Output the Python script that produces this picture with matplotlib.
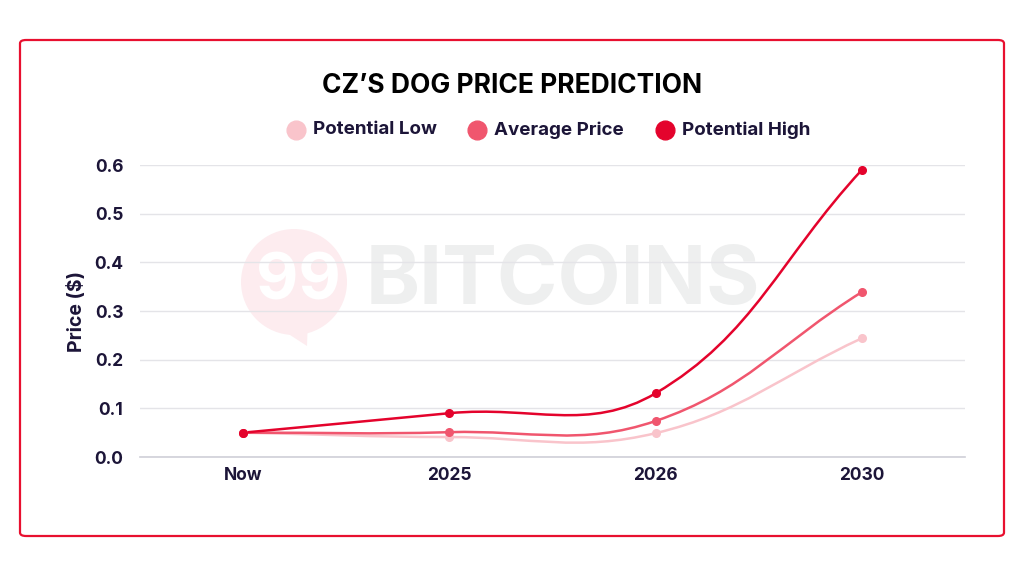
import numpy as np
import matplotlib.pyplot as plt
from matplotlib.path import Path
from matplotlib.patches import PathPatch, FancyBboxPatch, Ellipse, Polygon
from matplotlib.lines import Line2D

plt.rcParams['font.family'] = ['Inter', 'DejaVu Sans']

labels = ["Now", "2025", "2026", "2030"]
potential_low = [0.05, 0.041, 0.049, 0.244]
average_price = [0.05, 0.051, 0.074, 0.339]
potential_high = [0.05, 0.090, 0.131, 0.590]
series_names = ["Potential Low", "Average Price", "Potential High"]

c_low = "#f9c4cb"
c_avg = "#f0566e"
c_high = "#e4032c"
navy = "#1c1538"

W, H = 1024, 576
fig = plt.figure(figsize=(W / 100, H / 100), dpi=100)
ax = fig.add_axes([140 / W, 1 - 457 / H, 825 / W, 292 / H])
ax.set_xlim(-0.5, 3.5)
ax.set_ylim(0, 0.6)
ax.patch.set_visible(False)

# red frame
frame = FancyBboxPatch((20 / W, 40 / H), 984 / W, 496 / H,
                       boxstyle="round,pad=0,rounding_size=0.006",
                       transform=fig.transFigure, fill=False,
                       edgecolor="#e8102f", linewidth=1.6)
fig.patches.append(frame)

# watermark (99 bubble + BITCOINS)
wm_pink = "#fdecef"
fig.patches.append(Ellipse((294 / W, 1 - 282 / H), 106 / W, 106 / H, transform=fig.transFigure,
                           facecolor=wm_pink, edgecolor="none", zorder=-1))
fig.patches.append(Polygon([(270 / W, 1 - 322 / H), (307 / W, 1 - 346 / H), (308 / W, 1 - 318 / H)],
                           closed=True, transform=fig.transFigure,
                           facecolor=wm_pink, edgecolor="none", zorder=-1))
fig.text(298 / W, 1 - 283 / H, "99", ha="center", va="center", color="white",
         fontsize=47, fontweight="bold", zorder=-0.5)
fig.text(366 / W, 1 - 283 / H, "BITCOINS", ha="left", va="center", color="#eeefef",
         fontsize=59, fontweight="bold", zorder=-0.5)


def spline_path(ys, tension=0.4):
    xs = np.arange(len(ys))
    pts = ax.transData.transform(np.column_stack([xs, ys]))
    n = len(pts)
    prev_cp = [None] * n
    next_cp = [None] * n
    for i in range(n):
        p0 = pts[max(i - 1, 0)]
        p1 = pts[i]
        p2 = pts[min(i + 1, n - 1)]
        d01 = np.hypot(*(p1 - p0))
        d12 = np.hypot(*(p2 - p1))
        tot = d01 + d12 if d01 + d12 > 0 else 1
        fa = tension * d01 / tot
        fb = tension * d12 / tot
        prev_cp[i] = p1 - fa * (p2 - p0)
        next_cp[i] = p1 + fb * (p2 - p0)
    verts = [pts[0]]
    codes = [Path.MOVETO]
    for i in range(1, n):
        verts += [next_cp[i - 1], prev_cp[i], pts[i]]
        codes += [Path.CURVE4] * 3
    verts = ax.transData.inverted().transform(np.array(verts))
    return Path(verts, codes)


for ys, col in [(potential_low, c_low), (average_price, c_avg), (potential_high, c_high)]:
    ax.add_patch(PathPatch(spline_path(ys), facecolor="none", edgecolor=col,
                           linewidth=1.8, zorder=3))
    ax.plot(range(len(ys)), ys, linestyle="none", marker="o", markersize=5.5,
            color=col, zorder=4)

ax.set_xticks(range(len(labels)))
ax.set_xticklabels(labels)
ax.set_yticks(np.arange(0, 0.61, 0.1))
ax.set_yticklabels([f"{v:.1f}" for v in np.arange(0, 0.61, 0.1)])
ax.tick_params(length=0, labelsize=12.5, labelcolor=navy)
ax.tick_params(axis="y", pad=12)
ax.tick_params(axis="x", pad=7)
for lab in ax.get_xticklabels() + ax.get_yticklabels():
    lab.set_fontweight("bold")
ax.grid(axis="y", color="#e4e4e8", linewidth=1)
ax.set_axisbelow(True)
for s in ["top", "right", "left"]:
    ax.spines[s].set_visible(False)
ax.spines["bottom"].set_color("#cfcfd8")
ax.spines["bottom"].set_linewidth(1.2)
ax.set_ylabel("Price ($)", fontsize=14, fontweight="bold", color=navy, labelpad=6)

fig.text(0.5, 1 - 86 / H, "CZ’S DOG PRICE PREDICTION", ha="center", va="center",
         fontsize=19, fontweight="bold", color="black")

# legend: marker + label, placed like the reference
leg_marker_x = [296, 477, 665]
for mx, name, col in zip(leg_marker_x, series_names, [c_low, c_avg, c_high]):
    fig.add_artist(Line2D([mx / W], [1 - 130 / H], transform=fig.transFigure,
                          linestyle="none", marker="o", markersize=13.5, color=col))
    fig.text((mx + 17) / W, 1 - 130 / H, name, ha="left", va="center",
             fontsize=13.5, fontweight="bold", color=navy)

fig.savefig("out.png", dpi=100, facecolor="white")
